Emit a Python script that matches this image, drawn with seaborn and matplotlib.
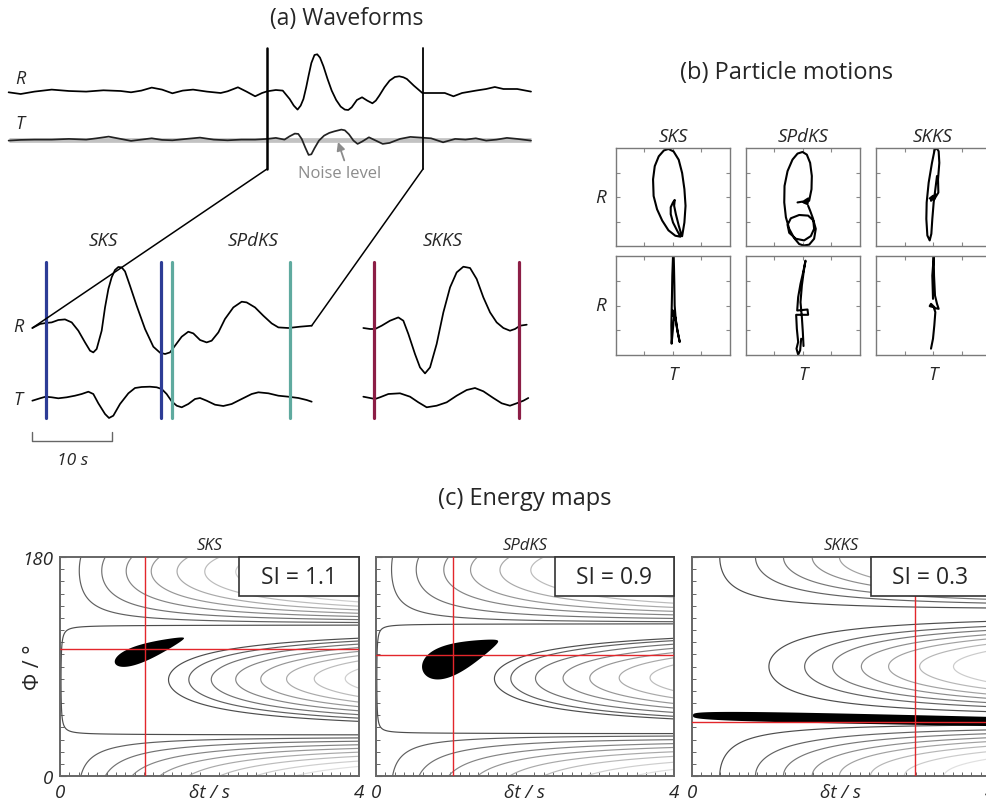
import numpy as np
import matplotlib
matplotlib.use("Agg")
import matplotlib.pyplot as plt
import seaborn as sns
from matplotlib.patches import ConnectionPatch, Rectangle

# ---------------- data ----------------
# (a) top: long traces (time s, amplitude)
top_R_time = [0.14, 2.85, 5.95, 9.82, 13.70, 17.57, 21.45, 25.32, 27.65, 29.97, 32.30, 34.62, 36.94, 39.27,
              41.59, 44.69, 47.79, 49.34, 51.67, 53.60, 55.54, 57.09, 58.25, 60.19, 61.74, 63.29, 64.22,
              65.07, 65.77, 66.39, 67.01, 67.55, 68.17, 68.87, 69.49, 70.11, 70.89, 71.81, 72.74, 73.75,
              74.76, 75.69, 76.46, 77.24, 78.40, 79.56, 80.73, 81.89, 82.66, 83.44, 84.60, 85.76, 86.93,
              87.93, 88.86, 89.64, 91.19, 93.12, 95.84, 98.16, 100.10, 102.04, 105.14, 107.46, 109.40,
              111.33, 114.43, 117.53]
top_R_amp = [0, -1.7, 0.7, 2.7, 1.3, 0.7, 2.0, 1.3, 0, 1.7, 4.7, 2.7, -1.0, 1.7, 2.7, 0.7, -0.7, 1.0, 5.0,
             0.7, -4.0, -0.7, 1.0, 2.3, 1.7, -6.7, -13.3, -17.3, -13.3, -6.7, 5.0, 16.7, 29.3, 37.3, 38.0,
             34.7, 26.0, 13.3, 1.7, -7.7, -14.3, -17.3, -17.7, -15.0, -7.7, -5.0, -8.3, -11.0, -8.3, -3.3,
             5.0, 11.7, 15.3, 16.0, 15.0, 13.3, 6.7, -0.7, -0.7, -0.7, -4.0, -0.7, 1.7, 3.3, 5.3, 3.3, 3.3, 0.7]
top_T_time = [0.14, 2.85, 5.95, 9.82, 13.70, 17.57, 19.90, 22.61, 25.32, 27.65, 29.97, 32.30, 34.62, 36.94,
              40.04, 43.14, 46.24, 49.34, 52.44, 55.54, 58.25, 60.19, 62.13, 63.29, 64.45, 65.23, 66.00,
              66.78, 67.55, 68.17, 68.87, 69.88, 71.04, 72.20, 73.37, 74.91, 75.69, 76.62, 77.63, 78.56,
              79.56, 81.11, 82.66, 84.21, 85.76, 88.09, 90.41, 92.74, 95.07, 97.77, 100.49, 102.81, 105.14,
              107.46, 109.78, 112.11, 114.43, 117.53]
top_T_amp = [-1.0, -0.3, 0, 0, 0.7, 0, 1.3, 3.0, 0.7, -1.3, 0, 1.3, -0.3, -0.7, 0.7, 2.0, 0, -0.7, 0, 0,
             0.7, 1.7, 0, 3.3, 6.0, 5.7, 0.7, -7.7, -15.3, -14.7, -8.7, -1.0, 4.0, 6.7, 8.3, 10.0, 9.3, 5.3,
             -1.0, -4.3, -2.0, 2.3, -1.0, -4.3, -3.3, 0.7, 2.7, 2.0, 1.3, -2.7, 0.7, 0, 1.3, -1.0, 0, 1.7,
             0.7, -1.0]
top_window = [58.2, 93.26]

# (a) bottom: zoomed traces (time s from window start, amplitude)
bot_R_time = [-0.02, 0.94, 1.65, 2.41, 3.24, 4.08, 4.92, 5.75, 6.59, 7.22, 7.63, 8.05, 8.68, 9.10, 9.52,
              9.93, 10.35, 10.77, 11.19, 11.61, 12.23, 13.07, 14.12, 15.16, 16.00, 16.63, 17.25, 17.88,
              18.72, 19.55, 20.18, 21.02, 21.85, 22.48, 23.32, 24.15, 25.20, 26.25, 26.87, 27.92, 28.96,
              30.01, 30.85, 32.10, 33.56, 35.03]
bot_R_amp = [-2.3, 1.7, 2.7, 3.3, 5.7, 6.3, 3.3, -5.0, -16.7, -25.0, -26.7, -23.3, -5.0, 18.3, 36.7, 48.3,
             55.7, 58.7, 58.3, 54.3, 40.0, 20.0, -3.3, -21.0, -27.0, -28.3, -26.7, -20.0, -11.0, -6.0, -7.7,
             -14.3, -16.7, -15.0, -6.7, 6.7, 18.3, 24.0, 23.3, 18.3, 10.0, 2.3, -1.7, -2.3, -1.0, 0]
bot_T_time = [-0.02, 0.94, 1.65, 2.41, 3.24, 4.29, 5.33, 6.17, 7.01, 7.63, 8.26, 9.10, 9.60, 10.14, 10.98,
              12.03, 12.86, 13.70, 14.74, 15.58, 16.21, 16.83, 17.46, 18.09, 18.72, 19.55, 20.39, 21.02,
              21.85, 22.90, 23.94, 24.99, 26.24, 27.50, 28.34, 29.59, 30.85, 32.10, 33.36, 34.40, 35.03]
bot_T_amp = [-1.7, 0.7, 2.3, 1.7, 0.7, 1.7, 3.3, 5.0, 7.3, 5.0, -4.3, -15.0, -19.0, -16.7, -5.0, 5.7, 11.0,
             12.0, 12.3, 11.7, 10.0, 5.0, -2.3, -6.7, -8.3, -5.0, 0, 1.0, -1.7, -5.7, -7.0, -5.0, 0, 5.0,
             6.7, 5.7, 3.3, 2.3, 1.0, -1.0, -2.7]
skks_R_time = [41.51, 42.35, 42.98, 43.81, 44.86, 45.90, 46.53, 47.16, 47.99, 48.62, 49.25, 49.88, 50.71,
               51.55, 52.39, 53.22, 54.06, 54.90, 55.73, 56.57, 57.41, 58.24, 59.08, 59.91, 60.54, 61.17, 62.01]
skks_R_amp = [-2.3, -3.3, -3.3, 0, 5.0, 8.3, 5.0, -8.3, -28.3, -41.7, -47.7, -41.7, -18.3, 13.3, 38.3, 53.3,
              59.0, 57.7, 46.7, 28.3, 13.3, 3.3, -2.3, -5.0, -3.3, 0, 1.0]
skks_T_time = [41.51, 42.35, 42.98, 43.60, 44.65, 46.11, 47.37, 48.41, 49.46, 50.71, 51.97, 53.22, 54.48,
               55.52, 56.57, 57.82, 58.87, 59.91, 60.75, 61.59, 62.21]
skks_T_amp = [2.3, 1.0, 0, 1.7, 5.0, 5.7, 2.3, -3.3, -8.3, -6.7, -3.3, 3.3, 9.0, 11.0, 7.7, 1.0, -4.3, -6.7,
              -4.3, -1.7, 1.0]
phase_names = ["SKS", "SPdKS", "SKKS"]
phase_windows = [[1.66, 16.12], [17.54, 32.35], [42.85, 61.04]]
phase_colors = ["#2d3c96", "#5faa9f", "#8c1e46"]
phase_label_time = [8.9, 27.7, 51.5]
scale_bar = [0, 10]

# (b) particle motions (T, R) normalised
pm_before = {
    "SKS": ([0.16, 0.20, 0.22, 0.20, 0.16, 0.10, 0.01, -0.08, -0.16, -0.25, -0.32, -0.35, -0.34, -0.28,
             -0.19, -0.08, 0.04, 0.13, 0.07, 0.0, -0.04, -0.04, 0.0, 0.03, 0.02, 0.05, 0.10, 0.15],
            [-0.80, -0.52, -0.18, 0.16, 0.49, 0.76, 0.93, 0.98, 0.95, 0.83, 0.63, 0.36, 0.02, -0.25,
             -0.48, -0.68, -0.79, -0.81, -0.68, -0.52, -0.35, -0.21, -0.11, -0.06, -0.18, -0.35, -0.58, -0.78]),
    "SPdKS": ([-0.096, 0.009, 0.090, 0.079, 0.009, 0.108, 0.149, 0.155, 0.125, 0.067, -0.009, -0.096, -0.184,
               -0.271, -0.324, -0.329, -0.300, -0.242, -0.155, -0.067, 0.009, 0.108, 0.195, 0.224, 0.184,
               0.090, -0.067, -0.213, -0.271, -0.242, -0.125, 0.020, 0.137, 0.195, 0.178, 0.125, 0.090],
              [-0.111, -0.091, -0.030, -0.145, -0.111, -0.077, 0.158, 0.428, 0.697, 0.865, 0.919, 0.886,
               0.764, 0.529, 0.226, -0.111, -0.414, -0.650, -0.838, -0.960, -0.99, -0.973, -0.852, -0.650,
               -0.481, -0.380, -0.367, -0.434, -0.569, -0.731, -0.852, -0.886, -0.798, -0.650, -0.448,
               -0.279, -0.178]),
    "SKKS": ([-0.058, 0.0, -0.035, 0.041, 0.023, 0.094, 0.088, 0.111, 0.099, 0.070, 0.029, -0.018, -0.076,
              -0.111, -0.117, -0.099, -0.058, -0.029, -0.012, 0.012, 0.041, 0.070],
             [-0.030, 0.024, -0.077, 0.057, -0.044, 0.091, 0.360, 0.697, 0.933, 0.99, 0.966, 0.697, 0.293,
              -0.111, -0.448, -0.785, -0.886, -0.751, -0.448, -0.111, 0.158, 0.428]),
}
pm_after = {
    "SKS": ([0, -0.012, -0.018, -0.024, -0.029, -0.024, -0.006, 0.012, 0.029, 0, -0.012, 0.041, 0.071, 0.118,
             0.082, 0.047, 0.029, 0.024, 0.018, 0.012],
            [0.99, 0.604, 0.201, -0.134, -0.403, -0.772, -0.537, -0.302, -0.168, -0.101, -0.201, -0.235,
             -0.470, -0.738, -0.537, -0.268, 0.0, 0.403, 0.738, 0.99]),
    "SPdKS": ([0.009, -0.003, -0.020, -0.044, -0.020, 0.015, 0.044, 0.003, -0.044, -0.085, -0.102, 0.079,
               0.090, -0.120, -0.108, -0.085, -0.114, -0.085, -0.050, -0.032],
              [-0.819, -0.537, -0.235, 0.067, 0.403, 0.705, 0.906, 0.671, 0.436, 0.168, -0.101, -0.081,
               -0.188, -0.188, -0.470, -0.738, -0.872, -0.993, -0.906, -0.671]),
    "SKKS": ([0, -0.012, 0.012, 0.018, 0.035, 0.070, 0.099, 0.041, -0.035, -0.058, 0.012, 0.041, 0.023, 0,
              -0.035],
             [0.134, 0.604, 0.99, 0.604, 0.201, 0.034, -0.067, -0.054, 0.034, -0.013, -0.034, -0.134, -0.403,
              -0.671, -0.872]),
}

# (c) energy maps
si_values = [1.1, 0.9, 0.3]
best_dt = [1.14, 1.03, 2.99]
best_phi = [104, 99.5, 44]
pol_angle = [34, 35, 45]          # initial polarisation
model_phi = [104, 99.5, 90]
model_dt = [1.14, 1.03, 0.33]
model_eps = [0.07, 0.08, 0.05]
period = 15.0
energy_levels = [
    [0.715, 0.98, 1.27, 1.58, 1.89, 2.2, 2.52, 2.86, 3.2],
    [0.785, 1.0, 1.32, 1.67, 2.0, 2.35, 2.7, 3.1, 3.5],
    [0.70, 1.17, 1.53, 1.89, 2.22, 2.58, 2.95, 3.35],
]
# confidence regions: centre dt, centre phi, half-length px, half-width px, angle deg, taper, shape exponent
conf_regions = [
    (1.197, 103.1, 36.7, 8.0, 19.9, 0.5, 2),
    (1.134, 98.6, 40.5, 14.0, 21.8, 0.55, 2),
    (4.0, 44.8, 297.0, 4.6, -1.16, 0.2, 4),
]

# ---------------- figure ----------------
sns.set_theme(style="white")
plt.rcParams["font.family"] = ["Open Sans", "DejaVu Sans"]
W, H = 987, 804
fig = plt.figure(figsize=(W / 100, H / 100), dpi=100)


def rect(x0, y0, x1, y1):
    return [x0 / W, 1 - y1 / H, (x1 - x0) / W, (y1 - y0) / H]


def ftext(x, y, s, **kw):
    kw.setdefault("ha", "center")
    kw.setdefault("va", "center")
    fig.text(x / W, 1 - y / H, s, **kw)


line_kw = dict(color="black", lw=1.25, solid_joinstyle="round", solid_capstyle="round")

# ---------- (a) waveforms ----------
ftext(347, 19, "(a) Waveforms", fontsize=16.5)
ax_top = fig.add_axes(rect(0, 30, 540, 200))
ax_top.set_xlim((0 - 8) / 4.45, (540 - 8) / 4.45)
ax_top.set_ylim(93.3 - 200, 93.3 - 30)
ax_top.axis("off")
T_off_top = -47.3
ax_top.plot([min(top_T_time), max(top_T_time)], [T_off_top, T_off_top], color="#c2c2c2", lw=3.4,
            solid_capstyle="butt", zorder=1)
sns.lineplot(x=top_R_time, y=top_R_amp, ax=ax_top, zorder=3, **line_kw)
sns.lineplot(x=top_T_time, y=np.array(top_T_amp) + T_off_top, ax=ax_top, zorder=3,
             **{**line_kw, "color": "#222222"})
win_top_y = (44.3, -76.7)
for tw, lw in zip(top_window, [1.8, 1.3]):
    ax_top.plot([tw, tw], list(win_top_y), color="black", lw=lw, zorder=4)
ax_top.annotate("Noise level", xy=((338 - 8) / 4.45, 93.3 - 143), xytext=((340 - 8) / 4.45, 93.3 - 174),
                ha="center", va="center", color="#8c8c8c", fontsize=12,
                arrowprops=dict(arrowstyle="-|>", color="#8c8c8c", lw=1.3, shrinkA=1, shrinkB=0,
                                relpos=(0.57, 1.0), mutation_scale=12))
ftext(20, 79, "R", fontsize=13, style="italic")
ftext(20, 124, "T", fontsize=13, style="italic")

ax_bot = fig.add_axes(rect(0, 240, 540, 470))
ax_bot.set_xlim((0 - 32.5) / 7.97, (540 - 32.5) / 7.97)
ax_bot.set_ylim(326.7 - 470, 326.7 - 240)
ax_bot.axis("off")
T_off = -73.3
for (t0, t1), col in zip(phase_windows, phase_colors):
    for tw in (t0, t1):
        ax_bot.plot([tw, tw], [63.7, -92.3], color=col, lw=2.3, zorder=4)
sns.lineplot(x=bot_R_time, y=bot_R_amp, ax=ax_bot, zorder=3, **line_kw)
sns.lineplot(x=bot_T_time, y=np.array(bot_T_amp) + T_off, ax=ax_bot, zorder=3, **line_kw)
sns.lineplot(x=skks_R_time, y=skks_R_amp, ax=ax_bot, zorder=3, **line_kw)
sns.lineplot(x=skks_T_time, y=np.array(skks_T_amp) + T_off, ax=ax_bot, zorder=3, **line_kw)
for name, tl in zip(phase_names, phase_label_time):
    ax_bot.text(tl, 326.7 - 241, name, ha="center", va="center", fontsize=13.5, style="italic")
ax_bot.plot([scale_bar[0], scale_bar[0], scale_bar[1], scale_bar[1]], [-106.3, -115, -115, -106.3],
            color="#666666", lw=1.0)
ax_bot.text(np.mean(scale_bar), 326.7 - 461, "10 s", ha="center", va="center", fontsize=12.5, style="italic")
ftext(18, 327, "R", fontsize=13, style="italic")
ftext(18, 400, "T", fontsize=13, style="italic")

for tw, (tb, ab) in zip(top_window, [(bot_R_time[0], bot_R_amp[0]), (bot_R_time[-1], bot_R_amp[-1])]):
    con = ConnectionPatch(xyA=(tw, win_top_y[1]), coordsA=ax_top.transData, xyB=(tb, ab),
                          coordsB=ax_bot.transData, color="black", lw=1.1, zorder=5)
    fig.add_artist(con)

# ---------- (b) particle motions ----------
ftext(787, 73, "(b) Particle motions", fontsize=17)
cols_x = [(616, 730), (746, 860), (876, 990)]
rows_y = [(149, 247), (257, 356)]
for r, (data, (y0, y1)) in enumerate(zip([pm_before, pm_after], rows_y)):
    for c, (name, (x0, x1)) in enumerate(zip(phase_names, cols_x)):
        ax = fig.add_axes(rect(x0, y0, x1, y1))
        tx, ry = data[name]
        sns.lineplot(x=tx, y=ry, ax=ax, sort=False, estimator=None, color="black", lw=1.5,
                     solid_joinstyle="round")
        ax.set_xlim(-1, 1)
        ax.set_ylim(-1, 1)
        ax.set_xticks([-0.5, 0, 0.5])
        ax.set_yticks([-0.5, 0, 0.5])
        ax.set_xticklabels([])
        ax.set_yticklabels([])
        ax.tick_params(direction="in", length=3, width=0.8, color="#888888", top=True, right=True,
                       bottom=True, left=True)
        for sp in ax.spines.values():
            sp.set_color("#7a7a7a")
            sp.set_linewidth(1.0)
        if r == 0:
            ax.set_title(name, style="italic", fontsize=13.5, pad=5)
        else:
            ftext((x0 + x1) / 2, 375, "T", fontsize=13.5, style="italic")
    ftext(601, (y0 + y1) / 2, "R", fontsize=13.5, style="italic")

# ---------- (c) energy maps ----------
ftext(525, 499, "(c) Energy maps", fontsize=17)
dt_grid = np.linspace(0, 4, 321)
phi_grid = np.linspace(0, 180, 541)
DT, PH = np.meshgrid(dt_grid, phi_grid)
axes_x = [(60, 359), (376, 674), (692, 990)]
for i, (x0, x1) in enumerate(axes_x):
    ax = fig.add_axes(rect(x0, 558, x1, 777))
    p = pol_angle[i]
    ang = np.deg2rad(2 * (PH - p))
    ang0 = np.deg2rad(2 * (model_phi[i] - p))
    a = model_dt[i] * np.cos(ang0) - DT * np.cos(ang)
    b = model_dt[i] * np.sin(ang0) - DT * np.sin(ang)
    rr = np.hypot(a, b)
    fac = np.where(rr > 1e-9, (period / np.pi) * np.sin(np.pi * rr / period) / np.maximum(rr, 1e-9), 1.0)
    F = np.sqrt((fac * b) ** 2 + (model_eps[i] * a) ** 2)
    lev = energy_levels[i]
    n = len(lev)
    cols = [str(0.30 + 0.58 * k / (n - 1)) for k in range(n)]
    ax.contour(DT, PH, F, levels=lev, colors=cols, linewidths=0.85, zorder=2)

    dtc, phc, L, h0, angd, k, ne = conf_regions[i]
    pxs = (x1 - x0) / 4.0
    pys = 219 / 180.0
    th = np.linspace(0, 2 * np.pi, 600)
    cu, su = np.cos(th), np.sin(th)
    u = L * np.sign(cu) * np.abs(cu) ** (2.0 / ne)
    w = h0 * np.sign(su) * np.abs(su) ** (2.0 / ne) * (1 - k * u / L)
    A = np.deg2rad(angd)
    X = u * np.cos(A) - w * np.sin(A)
    Y = u * np.sin(A) + w * np.cos(A)
    ax.fill(dtc + X / pxs, phc + Y / pys, color="black", lw=0, zorder=3)

    ax.axvline(best_dt[i], color="#e3262b", lw=1.0, zorder=4)
    ax.axhline(best_phi[i], color="#e3262b", lw=1.0, zorder=4)
    ax.add_patch(Rectangle((0.6, 0.82), 0.4, 0.18, transform=ax.transAxes, fc="white", ec="#333333",
                           lw=1.2, zorder=6, clip_on=False))
    ax.text(0.8, 0.91, f"SI = {si_values[i]}", transform=ax.transAxes, ha="center", va="center",
            fontsize=16.5, zorder=7)
    ax.set_xlim(0, 4)
    ax.set_ylim(0, 180)
    ax.set_xticks([0, 2, 4])
    ax.set_xticklabels(["0", "δt / s", "4"], style="italic", fontsize=13.5)
    ax.set_xticks(np.arange(0, 4.001, 0.125), minor=True)
    ax.set_yticks([0, 180])
    ax.set_yticks(np.arange(0, 181, 10), minor=True)
    if i == 0:
        ax.set_yticklabels(["0", "180"], style="italic", fontsize=13.5)
        ax.set_ylabel("Φ / °", fontsize=15.5)
        ax.yaxis.set_label_coords(-0.053, 0.5)
    else:
        ax.set_yticklabels([])
    ax.tick_params(which="major", direction="in", length=4, width=0.8, color="#666666", pad=5,
                   bottom=True, left=True, top=False, right=False)
    ax.tick_params(axis="x", which="major", length=0)
    ax.tick_params(which="minor", direction="in", length=3, width=0.7, color="#666666",
                   bottom=True, left=True, top=False, right=False)
    for sp in ax.spines.values():
        sp.set_color("#666666")
        sp.set_linewidth(1.4)
    ax.set_title(phase_names[i], style="italic", fontsize=12, pad=6)

fig.savefig("out.png", dpi=100)
